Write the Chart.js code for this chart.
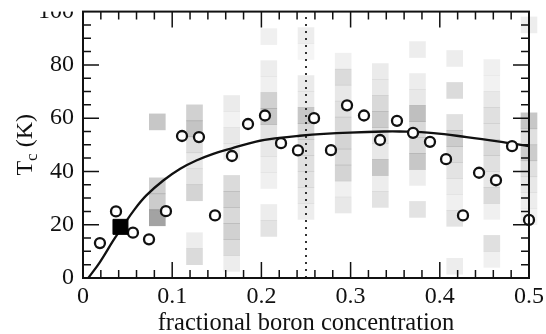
<!DOCTYPE html>
<html>
<head>
<meta charset="utf-8">
<script src="https://cdn.jsdelivr.net/npm/chart.js@4.4.1/dist/chart.umd.min.js"></script>
<style>
  html, body { margin: 0; padding: 0; background: #fff; }
  #wrap { width: 546px; height: 334px; position: relative; }
  canvas { display: block; }
</style>
</head>
<body>
<div id="wrap"><canvas id="chart" width="546" height="334"></canvas></div>
<script>
// Tc of boron-doped samples against fractional boron concentration
const tcX = [0.019, 0.037, 0.056, 0.074, 0.093, 0.111, 0.130, 0.148, 0.167, 0.185,
             0.204, 0.222, 0.241, 0.259, 0.278, 0.296, 0.315, 0.333, 0.352, 0.370,
             0.389, 0.407, 0.426, 0.444, 0.463, 0.481, 0.500];
const tcY = [13.1, 25.0, 17.0, 14.5, 25.1, 53.3, 52.9, 23.5, 45.8, 57.8,
             61.0, 50.6, 47.9, 60.0, 48.0, 64.8, 61.0, 51.8, 59.0, 54.5,
             51.1, 44.6, 23.5, 39.5, 36.7, 49.5, 21.8];

// measured point
const measuredX = [0.042];
const measuredY = [19.2];

// smooth fit through the samples
const fitX = [0.006, 0.019, 0.034, 0.044, 0.057, 0.071, 0.090, 0.109, 0.127, 0.146,
              0.166, 0.194, 0.220, 0.243, 0.270, 0.299, 0.337, 0.355, 0.393, 0.430,
              0.467, 0.482, 0.500];
const fitY = [0.0, 6.0, 14.1, 19.1, 25.4, 31.0, 36.6, 41.0, 44.1, 46.6,
              48.6, 51.2, 52.6, 53.4, 54.1, 54.6, 55.0, 55.0, 54.4, 52.9,
              51.2, 50.4, 49.5];

// marker line at x = 0.25
const dividerX = [0.25, 0.25];
const dividerY = [0, 100];

// Tc distribution per concentration: lower bin edges (K) and bin weights
const BIN_K = 6;
const binX = [0.0833, 0.125, 0.1667, 0.2083, 0.25, 0.2917, 0.3333, 0.375, 0.4167, 0.4583, 0.5];
const binLow = [
  [19.6, 25.6, 31.6, 55.6],
  [5, 11, 29, 35, 41, 47, 53, 59],
  [2.5, 8.5, 14.5, 20.5, 26.5, 32.5, 44.5, 50.5, 56.5, 62.5],
  [15.6, 21.6, 33.6, 39.6, 45.6, 51.6, 57.6, 63.6, 69.6, 75.6, 87.6],
  [22, 28, 34, 40, 46, 52, 58, 64, 70, 82, 88],
  [24.4, 30.4, 36.4, 42.4, 48.4, 54.4, 60.4, 66.4, 72.4, 78.4],
  [26.5, 32.5, 38.5, 44.5, 50.5, 56.5, 62.5, 68.5, 74.5],
  [22.75, 34.75, 40.75, 46.75, 52.75, 58.75, 64.75, 70.75, 82.75],
  [1.4, 19.4, 25.4, 31.4, 37.4, 43.4, 49.4, 55.4, 67.4, 79.4],
  [4, 10, 22, 28, 34, 40, 46, 52, 58, 64, 70, 76],
  [20, 26, 32, 38, 44, 50, 56, 92]
];
const binWeight = [
  [0.36, 0.20, 0.19, 0.22],
  [0.14, 0.07, 0.17, 0.11, 0.09, 0.13, 0.23, 0.18],
  [0.07, 0.14, 0.18, 0.15, 0.18, 0.14, 0.08, 0.09, 0.05, 0.08],
  [0.11, 0.07, 0.06, 0.07, 0.09, 0.11, 0.22, 0.18, 0.06, 0.07, 0.06],
  [0.07, 0.09, 0.11, 0.12, 0.13, 0.15, 0.22, 0.08, 0.08, 0.04, 0.07],
  [0.09, 0.06, 0.17, 0.15, 0.17, 0.15, 0.12, 0.09, 0.14, 0.06],
  [0.11, 0.07, 0.22, 0.09, 0.12, 0.20, 0.15, 0.09, 0.08],
  [0.11, 0.07, 0.22, 0.15, 0.15, 0.25, 0.09, 0.07, 0.07],
  [0.07, 0.11, 0.06, 0.08, 0.11, 0.14, 0.20, 0.12, 0.14, 0.07],
  [0.06, 0.12, 0.06, 0.14, 0.09, 0.12, 0.15, 0.11, 0.12, 0.09, 0.05, 0.06],
  [0.05, 0.07, 0.09, 0.12, 0.20, 0.12, 0.22, 0.07]
];

const xTickLabels = ['0', '0.1', '0.2', '0.3', '0.4', '0.5'];
const yTickLabels = ['0', '20', '40', '60', '80', '100'];

const SERIF = '"Liberation Serif", "Times New Roman", serif';
const INK = '#111';

const zip = (xs, ys) => xs.map((x, i) => ({ x, y: ys[i] }));

const binData = [], binColors = [];
binX.forEach((x, i) => {
  binLow[i].forEach((lo, j) => {
    binData.push({ x, y: [lo, lo + BIN_K] });
    binColors.push(`rgba(0,0,0,${binWeight[i][j]})`);
  });
});

// box frame with inward major/minor ticks on all four sides, axis titles
const frame = {
  id: 'frame',
  afterDatasetsDraw(chart) {
    const { ctx, chartArea: a, scales: { x, y } } = chart;
    ctx.save();
    ctx.strokeStyle = INK;
    ctx.lineWidth = 1.5;
    ctx.beginPath();
    for (let k = 1; k < 25; k++) {
      const px = x.getPixelForValue(k * 0.02);
      const len = k % 5 === 0 ? 16 : 8;
      ctx.moveTo(px, a.bottom); ctx.lineTo(px, a.bottom - len);
      ctx.moveTo(px, a.top); ctx.lineTo(px, a.top + len);
    }
    for (let k = 1; k < 20; k++) {
      const py = y.getPixelForValue(k * 5);
      const len = k % 4 === 0 ? 16 : 8;
      ctx.moveTo(a.left, py); ctx.lineTo(a.left + len, py);
      ctx.moveTo(a.right, py); ctx.lineTo(a.right - len, py);
    }
    ctx.stroke();
    ctx.restore();
  },
  afterDraw(chart) {
    const { ctx, chartArea: a } = chart;
    ctx.save();
    // the panel is cut off at its top edge
    ctx.fillStyle = '#fff';
    ctx.fillRect(0, 0, chart.width, a.top);
    ctx.strokeStyle = INK;
    ctx.lineWidth = 2;
    ctx.strokeRect(a.left, a.top, a.right - a.left, a.bottom - a.top);

    ctx.fillStyle = INK;
    // x-axis title
    ctx.font = '24.5px ' + SERIF;
    ctx.textAlign = 'center';
    ctx.textBaseline = 'alphabetic';
    ctx.fillText('fractional boron concentration', (a.left + a.right) / 2, 330);
    // y-axis title with subscript
    ctx.translate(32, (a.top + a.bottom) / 2);
    ctx.rotate(-Math.PI / 2);
    ctx.textAlign = 'left';
    const big = '24px ' + SERIF, small = '17px ' + SERIF;
    ctx.font = big;
    const wT = ctx.measureText('T').width;
    const wK = ctx.measureText(' (K)').width;
    ctx.font = small;
    const wc = ctx.measureText('c').width;
    const x0 = -(wT + wc + wK) / 2;
    ctx.font = big;  ctx.fillText('T', x0, 0);
    ctx.font = small; ctx.fillText('c', x0 + wT, 5);
    ctx.font = big;  ctx.fillText(' (K)', x0 + wT + wc, 0);
    ctx.restore();
  }
};

new Chart(document.getElementById('chart'), {
  type: 'scatter',
  data: {
    datasets: [
      {
        type: 'bar',
        data: binData,
        backgroundColor: binColors,
        borderWidth: 0,
        barThickness: 16,
        grouped: false,
        clip: false,
        order: 5
      },
      {
        type: 'line',
        data: zip(dividerX, dividerY),
        borderColor: '#333',
        borderWidth: 2,
        borderDash: [2, 5],
        pointRadius: 0,
        fill: false,
        order: 4
      },
      {
        type: 'line',
        data: zip(fitX, fitY),
        borderColor: INK,
        borderWidth: 2.3,
        tension: 0.4,
        pointRadius: 0,
        fill: false,
        order: 3
      },
      {
        type: 'scatter',
        data: zip(tcX, tcY),
        pointStyle: 'circle',
        pointRadius: 5,
        borderWidth: 2.3,
        borderColor: INK,
        backgroundColor: '#fff',
        clip: false,
        order: 2
      },
      {
        type: 'scatter',
        data: zip(measuredX, measuredY),
        pointStyle: 'rect',
        pointRadius: 10.6,
        borderWidth: 1,
        borderColor: '#000',
        backgroundColor: '#000',
        clip: false,
        order: 1
      }
    ]
  },
  options: {
    responsive: false,
    animation: false,
    events: [],
    layout: { padding: { left: 0, right: 17, top: 11, bottom: 0 } },
    plugins: { legend: { display: false }, tooltip: { enabled: false } },
    scales: {
      x: {
        type: 'linear',
        offset: false,
        min: 0, max: 0.5,
        grid: { display: false, drawTicks: false, tickLength: 0, offset: false },
        border: { display: false },
        ticks: {
          stepSize: 0.1,
          autoSkip: false,
          maxRotation: 0,
          padding: 4,
          color: INK,
          font: { family: SERIF, size: 24 },
          callback: (v, i) => xTickLabels[i]
        },
        afterFit(scale) {
          scale.height = 56;
          scale.paddingLeft = 0;
          scale.paddingRight = 0;
        }
      },
      y: {
        type: 'linear',
        min: 0, max: 100,
        grid: { display: false, drawTicks: false, tickLength: 0 },
        border: { display: false },
        ticks: {
          stepSize: 20,
          autoSkip: false,
          padding: 9,
          color: INK,
          font: { family: SERIF, size: 24 },
          callback: (v, i) => yTickLabels[i]
        },
        afterFit(scale) {
          scale.width = 83;
          scale.paddingTop = 0;
          scale.paddingBottom = 0;
        }
      }
    }
  },
  plugins: [frame]
});
</script>
</body>
</html>
